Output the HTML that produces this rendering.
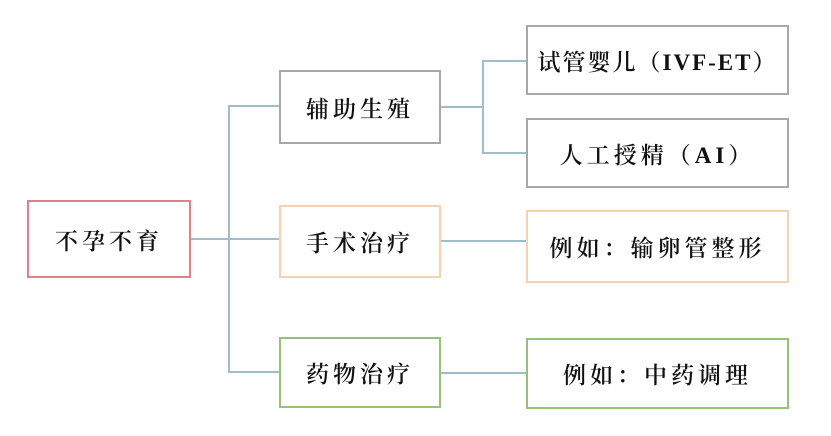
<!DOCTYPE html>
<html><head><meta charset="utf-8"><style>
body{margin:0;width:831px;height:436px;background:#fff;position:relative;overflow:hidden;font-family:"Liberation Serif","Noto Serif CJK SC",serif;color:#111}
.b{position:absolute;box-sizing:border-box;border:2px solid #a8a8a8;display:flex;align-items:center;justify-content:center;font-size:23px;font-weight:600;letter-spacing:4px;background:#fff}
.l{position:absolute;background:#9dbfcc}
</style></head><body>
<div class="l" style="left:190px;top:238px;width:89px;height:2px"></div>
<div class="l" style="left:228px;top:105px;width:2px;height:268px"></div>
<div class="l" style="left:228px;top:105px;width:51px;height:2px"></div>
<div class="l" style="left:228px;top:371px;width:51px;height:2px"></div>
<div class="l" style="left:440px;top:106px;width:43px;height:2px"></div>
<div class="l" style="left:482px;top:60px;width:2px;height:94px"></div>
<div class="l" style="left:482px;top:60px;width:44px;height:2px"></div>
<div class="l" style="left:482px;top:152px;width:44px;height:2px"></div>
<div class="l" style="left:440px;top:240px;width:86px;height:2px"></div>
<div class="l" style="left:440px;top:372px;width:86px;height:2px"></div>
<div class="b" style="left:27px;top:200px;width:164px;height:78px;border-color:#e0808a">不孕不育</div>
<div class="b" style="left:279px;top:70px;width:162px;height:74px">辅助生殖</div>
<div class="b" style="left:279px;top:205px;width:162px;height:73px;border-color:#f5d2b0">手术治疗</div>
<div class="b" style="left:279px;top:337px;width:162px;height:71px;border-color:#94c27a">药物治疗</div>
<div class="b" style="left:526px;top:25px;width:263px;height:70px;letter-spacing:2px">试管婴儿（IVF-ET）</div>
<div class="b" style="left:526px;top:118px;width:263px;height:70px">人工授精（AI）</div>
<div class="b" style="left:526px;top:210px;width:263px;height:73px;border-color:#f5d2b0">例如：输卵管整形</div>
<div class="b" style="left:526px;top:338px;width:263px;height:71px;border-color:#94c27a">例如：中药调理</div>
</body></html>
